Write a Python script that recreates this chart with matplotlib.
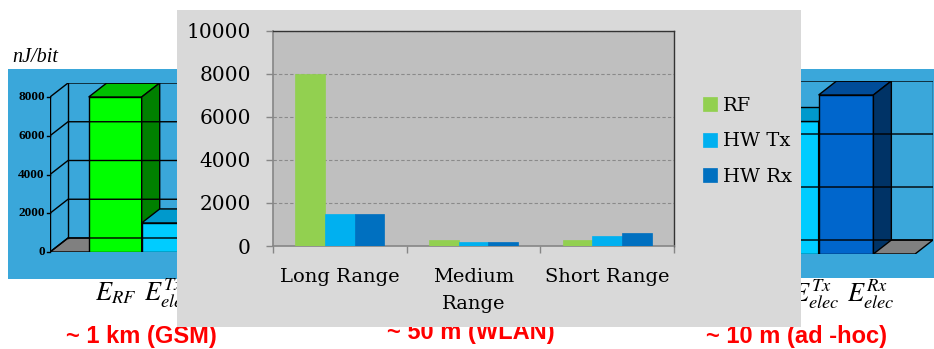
import matplotlib
matplotlib.use('Agg')
import matplotlib.pyplot as plt
from matplotlib.patches import Polygon, Rectangle

W, H = 934, 349

# energy per bit for each range (foreground chart)
ranges = ['Long Range', 'Medium\nRange', 'Short Range']
series = ['RF', 'HW Tx', 'HW Rx']
rf = [8000, 280, 280]
hw_tx = [1500, 175, 480]
hw_rx = [1500, 175, 590]
yticks = [0, 2000, 4000, 6000, 8000, 10000]

# the 3D slide charts behind it
bar_labels = [r'$E_{RF}$', r'$E_{elec}^{Tx}$', r'$E_{elec}^{Rx}$']
gsm_values = [8000, 1500, 1500]
gsm_ticks = [0, 2000, 4000, 6000, 8000]
adhoc_values = [300, 500, 600]
adhoc_ticks = [0, 200, 400, 600]
captions = ['~ 1 km (GSM)', '~ 50 m (WLAN)', '~ 10 m (ad -hoc)']

colors_2d = ['#92d050', '#00b0f0', '#0070c0']
colors_3d = [('#00ff00', '#00c000', '#008000'),
             ('#00ccff', '#0099cc', '#006699'),
             ('#0066cc', '#004c99', '#003366')]
slide_blue = '#3aa7da'

fig = plt.figure(figsize=(W / 100, H / 100), dpi=100)


def px_axes(x0, y0, x1, y1, z):
    ax = fig.add_axes([x0 / W, 1 - y1 / H, (x1 - x0) / W, (y1 - y0) / H])
    ax.set_zorder(z)
    return ax


def bar3d(ax, values, ticks, dx, dy, pad_l=0.73, pad_r=0.76):
    n = len(values)
    ymax = ticks[-1]
    x0, x1 = -pad_l, n + pad_r
    ax.set_xlim(x0, x1 + dx)
    ax.set_ylim(0, ymax + dy)
    ax.axis('off')
    ax.patch.set_alpha(0)
    k = dict(color='black', lw=1, solid_capstyle='projecting')
    ax.add_patch(Polygon([(x0, 0), (x1, 0), (x1 + dx, dy), (x0 + dx, dy)],
                         fc='#808080', ec='black', lw=1))
    ax.plot([x0 + dx, x0 + dx], [dy, ymax + dy], **k)
    ax.plot([x1 + dx, x1 + dx], [dy, ymax + dy], **k)
    for t in ticks:
        ax.plot([x0, x0 + dx, x1 + dx], [t, t + dy, t + dy], **k)
    ax.plot([x0, x0], [0, ymax], **k)
    for i, (v, (front, top, side)) in enumerate(zip(values, colors_3d)):
        ax.bar(i, v, width=1, align='edge', color=front, edgecolor='black', lw=1)
        ax.add_patch(Polygon([(i, v), (i + 1, v), (i + 1 + dx, v + dy), (i + dx, v + dy)],
                             fc=top, ec='black', lw=1))
        ax.add_patch(Polygon([(i + 1, 0), (i + 1 + dx, dy), (i + 1 + dx, v + dy), (i + 1, v)],
                             fc=side, ec='black', lw=1))
    return x0


# slide background: blue panels, captions, unit
bg = px_axes(0, 0, W, H, 0)
bg.set_xlim(0, W)
bg.set_ylim(H, 0)
bg.axis('off')
bg.add_patch(Rectangle((8, 69), 300, 210, fc=slide_blue, ec='none'))
bg.add_patch(Rectangle((760, 69), 180, 209, fc=slide_blue, ec='none'))
bg.text(12, 58, 'nJ/bit', family='Liberation Serif', style='italic', fontsize=14.5, va='center')
for cx, cy, cap in zip([141, 471, 797], [336, 332, 336], captions):
    bg.text(cx, cy, cap, family='Liberation Sans', weight='bold', color='#ff0000',
            fontsize=17, ha='center', va='center')

plt.rcParams['mathtext.fontset'] = 'stix'

# ~1 km chart
gsm = px_axes(50, 83, 306, 252, 1)
x0 = bar3d(gsm, gsm_values, gsm_ticks, dx=0.34, dy=723)
for t in gsm_ticks:
    gsm.plot([x0 - 0.06, x0], [t, t], color='black', lw=1, clip_on=False)
    gsm.text(x0 - 0.1, t, str(t), ha='right', va='center', fontsize=9.5,
             weight='bold', family='Liberation Serif')
for i, lab in enumerate(bar_labels):
    gsm.annotate(lab, (i + 0.5, 0), xytext=(0, -30), textcoords='offset points',
                 ha='center', va='center', fontsize=19, annotation_clip=False)

# ~10 m chart
adhoc = px_axes(669, 81, 933, 254, 1)
bar3d(adhoc, adhoc_values, adhoc_ticks, dx=0.327, dy=52.8)
for i, lab in enumerate(bar_labels):
    adhoc.annotate(lab, (i + 0.95, 0), xytext=(0, -29), textcoords='offset points',
                   ha='center', va='center', fontsize=19, annotation_clip=False)

# grey chart panel on top
panel = px_axes(177, 10, 801, 327, 2)
panel.set_facecolor('#d9d9d9')
panel.set_xticks([])
panel.set_yticks([])
for s in panel.spines.values():
    s.set_visible(False)

ax = px_axes(273, 30.7, 674, 246, 3)
ax.set_facecolor('#bfbfbf')
x = range(len(ranges))
w = 0.222
for j, (vals, c, name) in enumerate(zip([rf, hw_tx, hw_rx], colors_2d, series)):
    ax.bar([p + (j - 1) * w for p in x], vals, width=w, color=c, label=name,
           edgecolor=c, lw=0.5, zorder=3)
ax.set_xlim(-0.5, 2.5)
ax.set_ylim(0, 10000)
ax.set_yticks(yticks)
ax.set_xticks(list(x))
ax.set_xticklabels(ranges, family='DejaVu Serif', fontsize=14, linespacing=1.65)
ax.set_yticklabels([str(t) for t in yticks], family='DejaVu Serif', fontsize=14.5)
ax.set_xticks([-0.5, 0.5, 1.5, 2.5], minor=True)
ax.tick_params(axis='x', which='major', length=0, pad=16)
ax.tick_params(axis='x', which='minor', length=5, color='#868686', width=1)
ax.tick_params(axis='y', length=5, color='#868686', width=1, pad=11)
ax.grid(axis='y', color='#8a8a8a', ls=(0, (3, 2)), lw=0.8, zorder=1)
for s in ['left', 'bottom']:
    ax.spines[s].set_color('#868686')
    ax.spines[s].set_linewidth(1.2)
for s in ['top', 'right']:
    ax.spines[s].set_color('#333333')
    ax.spines[s].set_linewidth(1)

ax.legend(loc='upper left', bbox_to_anchor=(703 / W, 1 - 97 / H), bbox_transform=fig.transFigure,
          frameon=False, prop={'family': 'DejaVu Serif', 'size': 14},
          handlelength=0.7, handleheight=0.7, handletextpad=0.35, labelspacing=0.9,
          borderpad=0, borderaxespad=0)

fig.savefig('out.png', dpi=100)
